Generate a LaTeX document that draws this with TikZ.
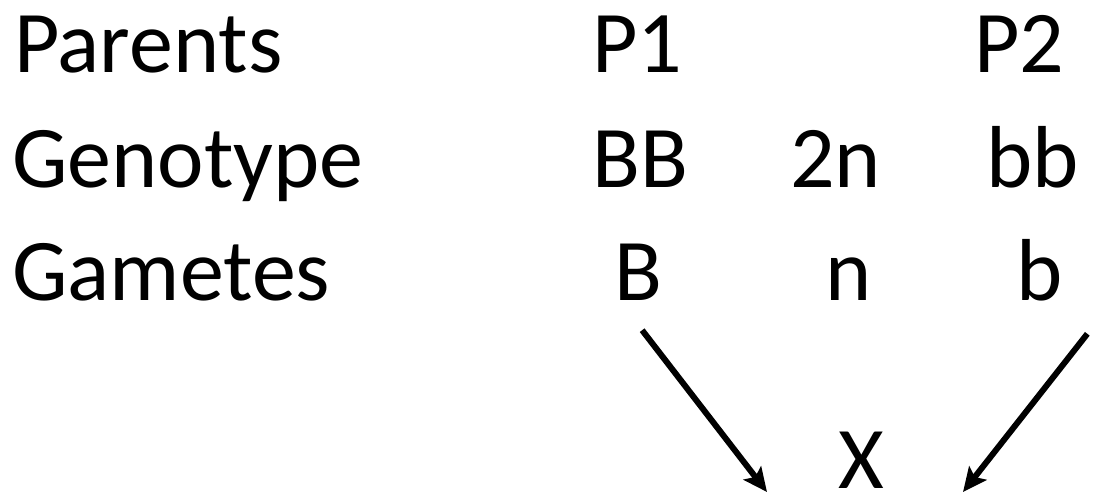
\documentclass[tikz,border=0pt]{standalone}
\usepackage{fontspec}
\setmainfont{Carlito}
\usetikzlibrary{arrows.meta}

\begin{document}
\begin{tikzpicture}[x=1pt,y=-1pt,
    lbl/.style={anchor=base west,inner sep=0pt,font=\fontsize{88}{105}\selectfont},
    arr/.style={line width=6pt,-{Stealth[length=24pt,width=22pt,inset=5pt]}}]
    \useasboundingbox (0,0) rectangle (1117,496);
    % row labels
    \node[lbl] (par) at (14,72)  {Parents};
    \node[lbl] (gen) at (12,187) {Genotype};
    \node[lbl] (gam) at (12,300) {Gametes};
    % parents
    \node[lbl] (P1) at (592,72)  {P1};
    \node[lbl] (P2) at (974,72)  {P2};
    % genotypes
    \node[lbl] (BB) at (592,187) {BB};
    \node[lbl] (2n) at (790,187) {2n};
    \node[lbl] (bb) at (986,187) {bb};
    % gametes
    \node[lbl] (B)  at (614,300) {B};
    \node[lbl] (n)  at (825,300) {n};
    \node[lbl] (b)  at (1016,300) {b};
    % cross
    \node[lbl] (X)  at (838,488) {X};
    \coordinate (tipL) at (767,492);
    \coordinate (tipR) at (963,492);
    \draw[arr] ([shift={(4,30)}]B.south) -- (tipL);
    \draw[arr] ([shift={(48,33)}]b.south) -- (tipR);
\end{tikzpicture}
\end{document}
